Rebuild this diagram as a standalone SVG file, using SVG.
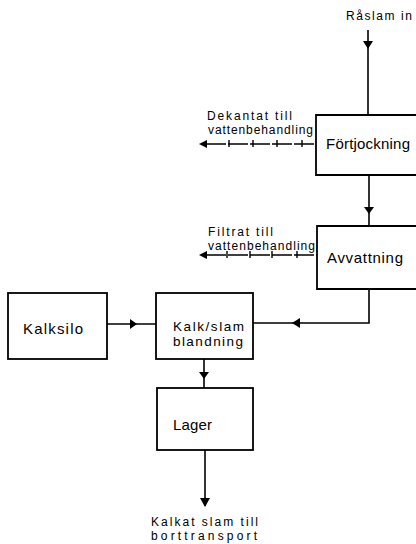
<svg xmlns="http://www.w3.org/2000/svg" width="416" height="544" viewBox="0 0 416 544">
<style>
.box{fill:#fff;stroke:#000;stroke-width:1.8}
.ln{fill:none;stroke:#000;stroke-width:1.6}
.dl{fill:none;stroke:#000;stroke-width:1.4}
.tk{stroke:#000;stroke-width:1.4}
.ah{fill:#000}
text{font-family:"Liberation Sans",Arial,sans-serif;fill:#000}
.lb{font-size:15px}
.mb{font-size:13.5px}
.sm{font-size:12px}
</style>
<rect width="416" height="544" fill="#fff"/>
<g id="connectors">
  <line class="ln" x1="368" y1="30" x2="368" y2="115"/>
  <polygon class="ah" points="363,41 373,41 368,49"/>
  <line class="ln" x1="369" y1="175" x2="369" y2="226"/>
  <polygon class="ah" points="364,207 374,207 369,214"/>
  <line class="dl" x1="206" y1="144" x2="316" y2="144" stroke-dasharray="20 2"/>
  <line class="tk" x1="229" y1="140" x2="229" y2="147"/>
  <line class="tk" x1="253" y1="140" x2="253" y2="147"/>
  <line class="tk" x1="277" y1="140" x2="277" y2="147"/>
  <line class="tk" x1="302" y1="140" x2="302" y2="147"/>
  <polygon class="ah" points="199,144 207,140 207,148"/>
  <line class="dl" x1="206" y1="255" x2="317" y2="255" stroke-dasharray="20 2"/>
  <line class="tk" x1="227" y1="251" x2="227" y2="258"/>
  <line class="tk" x1="250" y1="251" x2="250" y2="258"/>
  <line class="tk" x1="272" y1="251" x2="272" y2="258"/>
  <line class="tk" x1="297" y1="251" x2="297" y2="258"/>
  <polygon class="ah" points="199,255 207,251 207,259"/>
  <polyline class="ln" points="369,289 369,323 253,323"/>
  <polygon class="ah" points="292,323 300,318 300,328"/>
  <line class="ln" x1="107" y1="324" x2="156" y2="324"/>
  <polygon class="ah" points="137,324 130,319 130,329"/>
  <line class="ln" x1="204" y1="359" x2="204" y2="388"/>
  <polygon class="ah" points="199,372 209,372 204,379"/>
  <line class="ln" x1="205" y1="450" x2="205" y2="506"/>
  <polygon class="ah" points="200,498 210,498 205,507"/>
</g>
<g id="fortjockning">
  <path class="box" d="M420,115 H316 V175 H420"/>
  <text class="lb" x="326" y="149" textLength="84">Förtjockning</text>
</g>
<g id="avvattning">
  <path class="box" d="M420,226 H317 V289 H420"/>
  <text class="lb" x="327" y="263" textLength="76">Avvattning</text>
</g>
<g id="kalksilo">
  <rect class="box" x="8" y="293" width="99" height="66"/>
  <text class="lb" x="23" y="334" textLength="60">Kalksilo</text>
</g>
<g id="kalkslam">
  <rect class="box" x="156" y="293" width="97" height="66"/>
  <text class="mb" x="173" y="331" textLength="71">Kalk/slam</text>
  <text class="mb" x="173" y="346" textLength="70">blandning</text>
</g>
<g id="lager">
  <rect class="box" x="157" y="388" width="96" height="62"/>
  <text class="lb" x="173" y="430" textLength="39">Lager</text>
</g>
<g id="labels">
  <text class="sm" x="346" y="20" textLength="66">Råslam in</text>
  <text class="sm" x="207" y="120" textLength="85">Dekantat till</text>
  <text class="sm" x="208" y="134" textLength="105">vattenbehandling</text>
  <text class="sm" x="208" y="236" textLength="65">Filtrat till</text>
  <text class="sm" x="208" y="250" textLength="107">vattenbehandling</text>
  <text class="sm" x="151" y="526" textLength="107">Kalkat slam till</text>
  <text class="sm" x="151" y="540" textLength="106">borttransport</text>
</g>
</svg>
